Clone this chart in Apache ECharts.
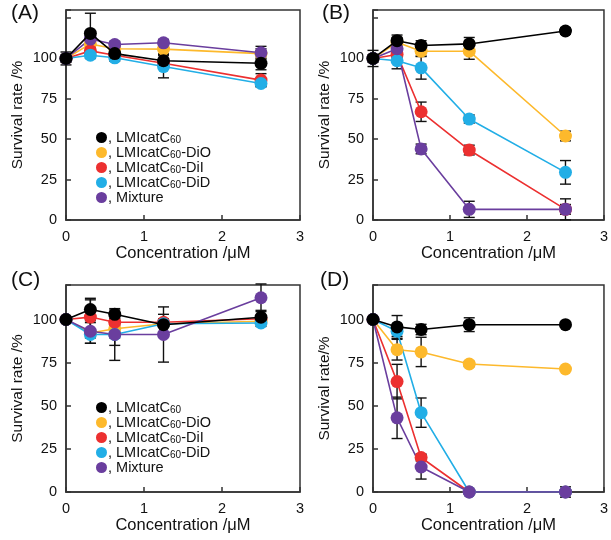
<!DOCTYPE html>
<html><head><meta charset="utf-8">
<script src="https://cdn.jsdelivr.net/npm/echarts@6/dist/echarts.min.js"></script>
<style>html,body{margin:0;padding:0;background:#fff}#c{width:611px;height:540px}</style>
</head><body><div id="c"></div>
<script>
// concentrations (µM)
const conc = [0, 0.3125, 0.625, 1.25, 2.5];
const seriesNames = ['LMIcatC60', 'LMIcatC60-DiO', 'LMIcatC60-DiI', 'LMIcatC60-DiD', 'Mixture'];
const xTicks = [0, 1, 2, 3];
const yTicks = [0, 25, 50, 75, 100];

// Panel A
const A_black  = [100, 115.5, 103, 98.6, 97];
const A_orange = [100, 109, 106, 105.8, 103];
const A_red    = [100, 104.7, 102, 97, 86.6];
const A_blue   = [100, 102, 100.4, 95, 84.5];
const A_purple = [100, 112, 108.6, 109.7, 103.5];
const A_black_err  = [4, 12.5, 3, 4, 4];
const A_orange_err = [2, 3, 2, 3, 3];
const A_red_err    = [2, 2, 2, 2, 4];
const A_blue_err   = [2, 2, 2, 7, 2];
const A_purple_err = [2, 2, 2, 2, 4];

// Panel B
const B_black  = [100, 111, 108, 109, 117];
const B_orange = [100, 110, 104.5, 104.5, 52];
const B_red    = [100, 102.5, 67, 43.3, 6.6];
const B_blue   = [100, 98.6, 94.2, 62.5, 29.5];
const B_purple = [100, 106, 44, 6.6, 6.6];
const B_black_err  = [5, 3.5, 3, 4, 2];
const B_orange_err = [2, 3, 3, 5, 3];
const B_red_err    = [2, 2, 6, 3, 3];
const B_blue_err   = [2, 5, 7, 2.5, 7.3];
const B_purple_err = [2, 2, 3, 5, 6.5];

// Panel C
const C_black  = [100, 105.8, 103, 97, 101.3];
const C_orange = [100, 92.2, 94.6, 97.5, 99];
const C_red    = [100, 101.4, 98.4, 98.4, 100.4];
const C_blue   = [100, 91.3, 91.3, 97.5, 98];
const C_purple = [100, 93.2, 91.3, 91.3, 112.6];
const C_black_err  = [1, 6.5, 2.5, 6, 4];
const C_orange_err = [1, 6, 9.6, 2, 2];
const C_red_err    = [1, 10, 2, 2, 2];
const C_blue_err   = [1, 2, 2, 2, 2];
const C_purple_err = [1, 7, 15, 16, 8];

// Panel D
const D_black  = [100, 95.7, 94.2, 97, 97];
const D_orange = [100, 82.5, 81.2, 74.2, 71.3];
const D_red    = [100, 64, 20, 0, 0];
const D_blue   = [100, 93.2, 46, 0, 0];
const D_purple = [100, 43, 14.5, 0, 0];
const D_black_err  = [1, 6.6, 3, 4, 1];
const D_orange_err = [1, 6, 8.5, 1.5, 1];
const D_red_err    = [1, 10, 2, 0, 0];
const D_blue_err   = [1, 3, 8.5, 0, 0];
const D_purple_err = [1, 12, 7, 1, 3];

const panelLabels = ['(A)', '(B)', '(C)', '(D)'];
const yNames = ['Survival rate /%', 'Survival rate /%', 'Survival rate /%', 'Survival rate/%'];
const xName = 'Concentration /\u03bcM';

const panelValues = [
  [A_black, A_orange, A_red, A_blue, A_purple],
  [B_black, B_orange, B_red, B_blue, B_purple],
  [C_black, C_orange, C_red, C_blue, C_purple],
  [D_black, D_orange, D_red, D_blue, D_purple]
];
const panelErrs = [
  [A_black_err, A_orange_err, A_red_err, A_blue_err, A_purple_err],
  [B_black_err, B_orange_err, B_red_err, B_blue_err, B_purple_err],
  [C_black_err, C_orange_err, C_red_err, C_blue_err, C_purple_err],
  [D_black_err, D_orange_err, D_red_err, D_blue_err, D_purple_err]
];

// ---- styling ----
const colors = ['#000000', '#FDB92C', '#EC3030', '#22AEE6', '#6A3E9E'];
const FONT = '"Liberation Sans", Arial, sans-serif';
const frame = '#333333';
const yMax = [130, 130, 120, 120];
const grids = [
  {left: 66, top: 10, width: 234, height: 210},
  {left: 373, top: 10, width: 232, height: 210},
  {left: 66, top: 285, width: 234, height: 207},
  {left: 373, top: 285, width: 232, height: 207}
];
const labelPos = [[11, 3], [322, 3], [11, 270], [320, 270]];

const chart = echarts.init(document.getElementById('c'));

const grid = grids.map(g => Object.assign({show: true, borderColor: frame, borderWidth: 1.5, backgroundColor: '#fff'}, g));
const xAxis = grids.map((g, i) => ({
  type: 'value', gridIndex: i, min: xTicks[0], max: xTicks[xTicks.length - 1], interval: 1,
  axisLine: {show: true, lineStyle: {color: frame, width: 1.5}},
  axisTick: {show: true, inside: true, length: 5, lineStyle: {color: frame, width: 1.5}},
  axisLabel: {fontSize: 14.5, color: '#111', margin: 9, fontFamily: FONT},
  splitLine: {show: false},
  name: xName, nameLocation: 'middle', nameGap: 22,
  nameTextStyle: {fontSize: 16.5, color: '#111', fontFamily: FONT}
}));
const yAxis = grids.map((g, i) => ({
  type: 'value', gridIndex: i, min: 0, max: yMax[i], interval: 25,
  axisLine: {show: true, lineStyle: {color: frame, width: 1.5}},
  axisTick: {show: true, inside: true, length: 5, lineStyle: {color: frame, width: 1.5}},
  axisLabel: {fontSize: 14.5, color: '#111', margin: 9, fontFamily: FONT,
    formatter: v => (yTicks.indexOf(v) >= 0 ? String(v) : '')},
  splitLine: {show: false},
  name: yNames[i], nameLocation: 'middle', nameGap: 40,
  nameTextStyle: {fontSize: 15.5, color: '#111', fontFamily: FONT}
}));

function errRender(params, api) {
  const x = api.value(0), lo = api.value(1), hi = api.value(2);
  if (hi - lo <= 0) return null;
  const pt = api.coord([x, hi]);
  const pb = api.coord([x, lo]);
  const w = 5.5;
  const st = {stroke: '#111', lineWidth: 1.4};
  return {type: 'group', children: [
    {type: 'line', shape: {x1: pt[0], y1: pt[1], x2: pb[0], y2: pb[1]}, style: st},
    {type: 'line', shape: {x1: pt[0] - w, y1: pt[1], x2: pt[0] + w, y2: pt[1]}, style: st},
    {type: 'line', shape: {x1: pb[0] - w, y1: pb[1], x2: pb[0] + w, y2: pb[1]}, style: st}
  ]};
}

const series = [];
panelValues.forEach((vals, p) => {
  vals.forEach((v, k) => {
    const e = panelErrs[p][k];
    series.push({
      type: 'custom', name: seriesNames[k] + '_err', xAxisIndex: p, yAxisIndex: p, z: 1,
      renderItem: errRender, silent: true,
      data: conc.map((c, j) => [c, v[j] - e[j], v[j] + e[j]])
    });
  });
  // draw order: coloured first, black last
  [1, 2, 3, 4, 0].forEach(k => {
    series.push({
      type: 'line', name: seriesNames[k], xAxisIndex: p, yAxisIndex: p,
      z: k === 0 ? 4 : 3,
      data: conc.map((c, j) => [c, vals[k][j]]),
      symbol: 'circle', symbolSize: 13,
      lineStyle: {color: colors[k], width: 1.6},
      itemStyle: {color: colors[k]},
      emphasis: {disabled: true}, animation: false
    });
  });
});

const legendCommon = {
  orient: 'vertical', icon: 'circle', itemWidth: 11, itemHeight: 11, itemGap: 0,
  selectedMode: false, data: seriesNames,
  formatter: n => ', ' + n.replace('C60', 'C{s|60}'),
  textStyle: {fontSize: 14.5, lineHeight: 15, color: '#111', fontFamily: FONT, padding: [0, 0, 0, -4],
    rich: {s: {fontSize: 10, lineHeight: 15, color: '#111', fontFamily: FONT, verticalAlign: 'bottom', padding: [4, 0, 0, 0]}}}
};

chart.setOption({
  animation: false,
  backgroundColor: '#fff',
  grid, xAxis, yAxis, series,
  legend: [
    Object.assign({left: 91, top: 125}, legendCommon),
    Object.assign({left: 91, top: 395}, legendCommon)
  ],
  graphic: panelLabels.map((t, i) => ({
    type: 'text', left: labelPos[i][0], top: labelPos[i][1],
    style: {text: t, fontSize: 21, fill: '#111', fontFamily: FONT}
  }))
});
</script></body></html>
